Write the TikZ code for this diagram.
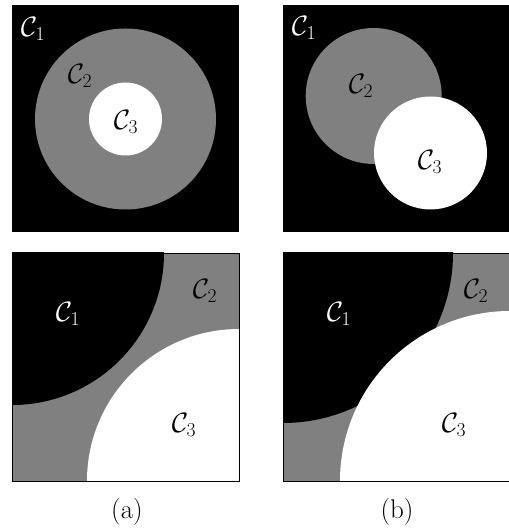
\documentclass[tikz,border=0pt]{standalone}
\usepackage{fix-cm}
\usepackage{amsmath,amssymb}
\begin{document}
\begin{tikzpicture}[x=1pt, y=1pt,
    lbl/.style={font=\fontsize{28}{33}\selectfont, inner sep=0pt},
    wlbl/.style={lbl, text=white},
    blbl/.style={lbl, text=black},
    capt/.style={font=\fontsize{27}{32}\selectfont, inner sep=0pt},
    frame/.style={draw=black, line width=0.9pt}
  ]
  \useasboundingbox (0,0) rectangle (508,529);
  %% (a) top: nested discs
  \fill[black] (12,296.5) rectangle (239,524);
  \fill[gray] (125.5,410) circle (90.5);
  \fill[white] (125.5,410) circle (36.5);
  \node[wlbl] (c1at) at (33,500) {$\mathcal{C}_1$};
  \node[blbl] (c2at) at (80,453) {$\mathcal{C}_2$};
  \node[blbl] (c3at) at (126,407) {$\mathcal{C}_3$};
  %% (b) top: overlapping discs
  \fill[black] (283,296.5) rectangle (510,524);
  \fill[gray] (373.7,433) circle (68);
  \fill[white] (430.5,376) circle (56.5);
  \node[wlbl] (c1bt) at (304,501) {$\mathcal{C}_1$};
  \node[blbl] (c2bt) at (361,443) {$\mathcal{C}_2$};
  \node[blbl] (c3bt) at (430,367) {$\mathcal{C}_3$};
  %% (a) bottom: close-up
  \begin{scope}
    \clip (12,48) rectangle (239,276);
    \fill[gray] (12,48) rectangle (239,276);
    \fill[black] (12,276) circle (152);
    \fill[white] (239,48) circle (152);
  \end{scope}
  \draw[frame] (12,48) rectangle (239,276);
  \node[wlbl] (c1ab) at (68,215) {$\mathcal{C}_1$};
  \node[blbl] (c2ab) at (205,238) {$\mathcal{C}_2$};
  \node[blbl] (c3ab) at (184,104) {$\mathcal{C}_3$};
  %% (b) bottom: close-up
  \begin{scope}
    \clip (283,48) rectangle (510,276);
    \fill[gray] (283,48) rectangle (510,276);
    \fill[black] (283,276) circle (170);
    \fill[white] (510,48) circle (170);
  \end{scope}
  \draw[frame] (283,48) rectangle (510,276);
  \node[wlbl] (c1bb) at (339,215) {$\mathcal{C}_1$};
  \node[blbl] (c2bb) at (476,238) {$\mathcal{C}_2$};
  \node[blbl] (c3bb) at (454,104) {$\mathcal{C}_3$};
  %% captions
  \node[capt] (capa) at (127,17) {(a)};
  \node[capt] (capb) at (397,17) {(b)};
\end{tikzpicture}
\end{document}
